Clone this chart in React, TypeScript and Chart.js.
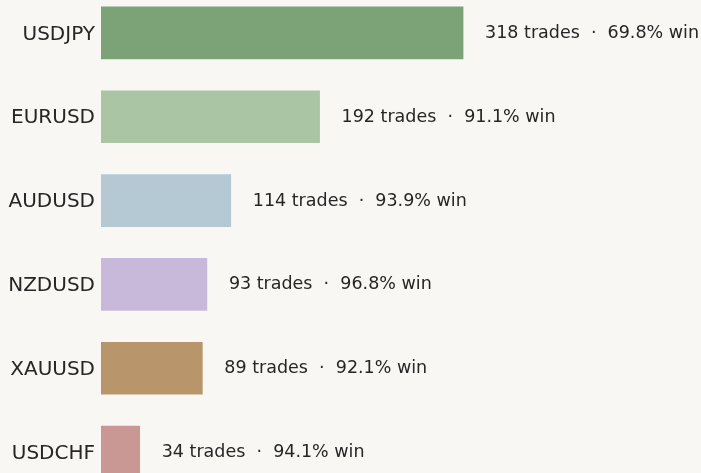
import React, { useEffect, useRef } from "react";
import { Chart, registerables } from "chart.js";

Chart.register(...registerables);

const pairs = ["USDJPY", "EURUSD", "AUDUSD", "NZDUSD", "XAUUSD", "USDCHF"];
const trades = [318, 192, 114, 93, 89, 34];
const winRates = [69.8, 91.1, 93.9, 96.8, 92.1, 94.1];
const barColors = ["#7ba377", "#a9c5a3", "#b4c9d4", "#c8b9da", "#b8956a", "#c99794"];

const BG = "#f9f7f3";
const TEXT = "#262626";
const FONT = "'DejaVu Sans', sans-serif";

const annotationPlugin = {
  id: "barAnnotations",
  afterDatasetsDraw(chart: any) {
    const ctx = chart.ctx;
    const meta = chart.getDatasetMeta(0);
    ctx.save();
    ctx.font = `17.5px ${FONT}`;
    ctx.fillStyle = TEXT;
    ctx.textAlign = "left";
    ctx.textBaseline = "middle";
    meta.data.forEach((el: any, i: number) => {
      const label = `${trades[i]} trades  \u00b7  ${winRates[i].toFixed(1)}% win`;
      ctx.fillText(label, el.x + 22, el.y + 0.5);
    });
    ctx.restore();
  },
};

const bgPlugin = {
  id: "bgFill",
  beforeDraw(chart: any) {
    const ctx = chart.ctx;
    ctx.save();
    ctx.fillStyle = BG;
    ctx.fillRect(0, 0, chart.width, chart.height);
    ctx.restore();
  },
};

export default function App() {
  const ref = useRef<HTMLCanvasElement | null>(null);

  useEffect(() => {
    if (!ref.current) return;
    const chart = new Chart(ref.current, {
      type: "bar",
      data: {
        labels: pairs,
        datasets: [
          {
            data: trades,
            backgroundColor: barColors,
            borderWidth: 0,
            barThickness: 52,
          },
        ],
      },
      options: {
        indexAxis: "y",
        animation: false,
        responsive: false,
        maintainAspectRatio: false,
        layout: { padding: 0 },
        plugins: {
          legend: { display: false },
          tooltip: { enabled: false },
          title: { display: false },
        },
        scales: {
          x: {
            display: false,
            min: 0,
            max: 527,
          },
          y: {
            grid: { display: false, drawTicks: false },
            border: { display: false },
            afterFit: (scale: any) => {
              scale.width = 101;
              scale.paddingTop = 0;
              scale.paddingBottom = 0;
            },
            ticks: {
              padding: 6,
              labelOffset: 1.5,
              color: TEXT,
              font: { family: FONT, size: 20 },
            },
          },
        },
      },
      plugins: [bgPlugin, annotationPlugin],
    });
    return () => chart.destroy();
  }, []);

  return (
    <div
      style={{
        position: "fixed",
        left: 0,
        top: 0,
        width: 701,
        height: 473,
        overflow: "hidden",
        background: BG,
      }}
    >
      <canvas
        ref={ref}
        width={701}
        height={503}
        style={{ position: "absolute", left: 0, top: -9, width: 701, height: 503 }}
      />
    </div>
  );
}
